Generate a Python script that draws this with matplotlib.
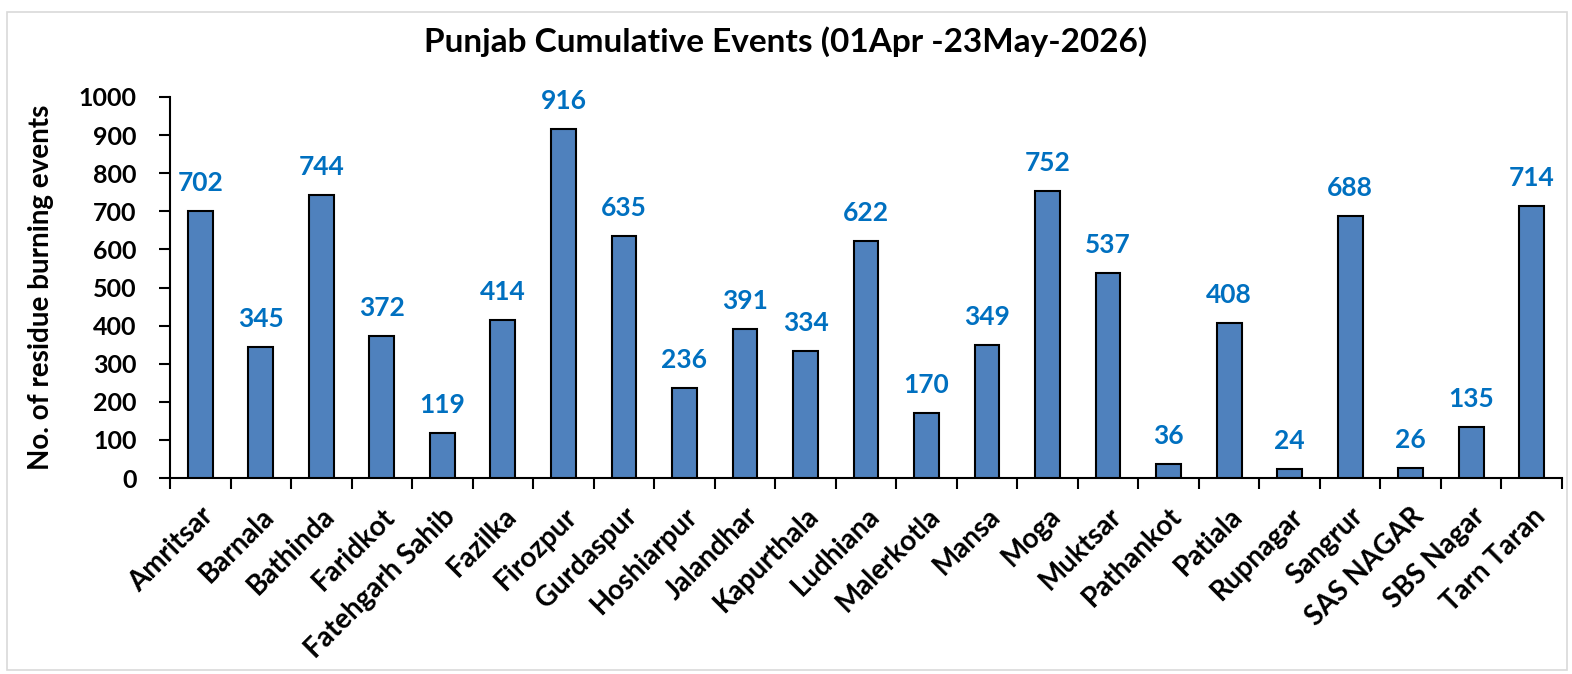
import matplotlib
matplotlib.use("Agg")
import matplotlib.pyplot as plt
import numpy as np
from matplotlib.patches import Rectangle

districts = ["Amritsar", "Barnala", "Bathinda", "Faridkot", "Fatehgarh Sahib", "Fazilka",
             "Firozpur", "Gurdaspur", "Hoshiarpur", "Jalandhar", "Kapurthala", "Ludhiana",
             "Malerkotla", "Mansa", "Moga", "Muktsar", "Pathankot", "Patiala", "Rupnagar",
             "Sangrur", "SAS NAGAR", "SBS Nagar", "Tarn Taran"]
events = [702, 345, 744, 372, 119, 414, 916, 635, 236, 391, 334, 622,
          170, 349, 752, 537, 36, 408, 24, 688, 26, 135, 714]
yticks = [0, 100, 200, 300, 400, 500, 600, 700, 800, 900, 1000]

plt.rcParams['font.family'] = ['Lato', 'DejaVu Sans']
plt.rcParams['font.weight'] = 'bold'

fig = plt.figure(figsize=(15.72, 6.74), dpi=100)
fig.patches.append(Rectangle((7/1572, 4/674), 1560/1572, 658/674, transform=fig.transFigure,
                             fill=False, edgecolor='#d9d9d9', linewidth=1.2))
ax = fig.add_axes([170/1572, 1 - 478/674, (1562-170)/1572, (478-97)/674])

x = np.arange(len(districts))
bars = ax.bar(x, events, width=0.41, color='#4F81BD', edgecolor='black', linewidth=1.5, zorder=3)
for xi, v in zip(x, events):
    ax.text(xi, v + 42, str(v), ha='center', va='bottom', color='#0070C0',
            fontsize=19, fontweight='bold')

ax.set_xlim(-0.5, len(districts) - 0.5)
ax.set_ylim(0, 1000)
ax.set_yticks(yticks)
ax.set_yticklabels([str(t) for t in yticks], fontsize=18, fontweight='bold')
ax.set_xticks(x)
ax.set_xticklabels(districts, rotation=45, ha='right', rotation_mode='anchor',
                   fontsize=20, fontweight='bold')
ax.tick_params(axis='x', which='major', length=0, pad=18)
ax.set_xticks(np.arange(-0.5, len(districts), 1.0), minor=True)
ax.tick_params(axis='x', which='minor', length=8, width=1.5, direction='out')
ax.tick_params(axis='y', length=8, width=1.5, direction='out', pad=16)

for s in ['top', 'right']:
    ax.spines[s].set_visible(False)
for s in ['left', 'bottom']:
    ax.spines[s].set_linewidth(1.5)

ax.set_ylabel("No. of residue burning events", fontsize=20, fontweight='bold', labelpad=18)
fig.text(0.5, 1 - 42/674, "Punjab Cumulative Events (01Apr -23May-2026)", ha='center', va='center',
         fontsize=24, fontweight='bold')

fig.savefig("out.png", dpi=100)
